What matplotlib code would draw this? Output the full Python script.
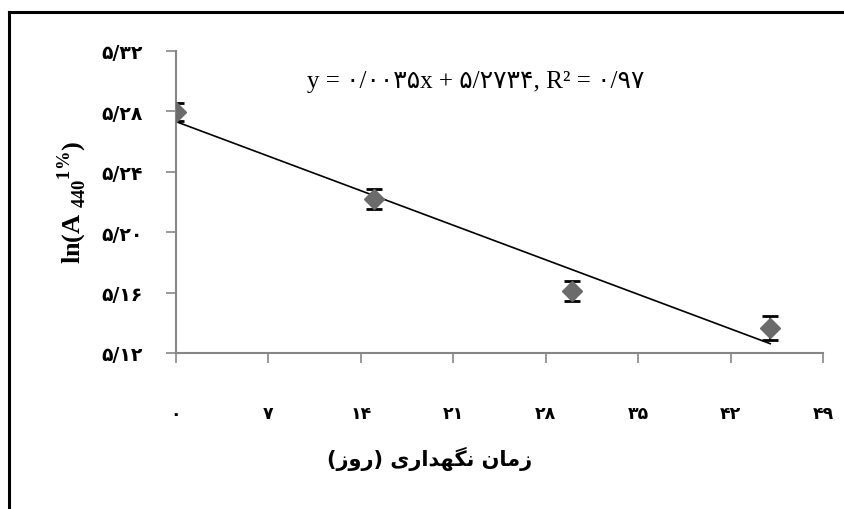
import numpy as np
import matplotlib
matplotlib.use('Agg')
import matplotlib.pyplot as plt
from matplotlib.lines import Line2D

# storage time (days) and ln(A440 1%) means with error
days = [0, 15, 30, 45]
ln_a = [5.2793, 5.2219, 5.1609, 5.1364]
err = [0.0060, 0.0064, 0.0068, 0.0078]

x_ticks = [0, 7, 14, 21, 28, 35, 42, 49]
y_ticks = [5.12, 5.16, 5.20, 5.24, 5.28, 5.32]

fa = str.maketrans('0123456789.', '۰۱۲۳۴۵۶۷۸۹/')
x_ticklabels = [str(v).translate(fa) for v in x_ticks]
y_ticklabels = ['%.2f' % v for v in y_ticks]
y_ticklabels = [s.translate(fa) for s in y_ticklabels]

eq_text = 'y = ۰/۰۰۳۵x + ۵/۲۷۳۴, R² = ۰/۹۷'
# "زمان نگهداری (روز)" pre-shaped, visual order
x_label = '(\uFEAF\uFEED\uFEAD) \uFBFC\uFEAD\uFE8D\uFEAA\uFEEC\uFB95\uFEE7 \uFEE5\uFE8E\uFEE3\uFEAF'

plt.rcParams['mathtext.fontset'] = 'custom'
plt.rcParams['mathtext.rm'] = 'Liberation Serif'
plt.rcParams['mathtext.bf'] = 'Liberation Serif:bold'

fig = plt.figure(figsize=(8.45, 5.10), dpi=100)
ax = fig.add_axes([176/845, 1-354/510, (823-176)/845, (354-51.7)/510])

gray = '#868686'

# trend line from a linear fit
k, b = np.polyfit(days, ln_a, 1)
xx = np.array([days[0], days[-1]])
ax.plot(xx, k*xx + b, color='black', lw=1.2, zorder=2)

ax.errorbar(days, ln_a, yerr=err, fmt='none', ecolor='black', elinewidth=1.2,
            capsize=6, capthick=2, zorder=3)
ax.plot(days, ln_a, 'D', ms=10, color='#6b6b6b', mec='#6b6b6b', zorder=4)

ax.set_xlim(0, 49)
ax.set_ylim(5.12, 5.32)
ax.set_xticks(x_ticks)
ax.set_xticklabels(x_ticklabels, fontweight='bold', fontsize=12.5, family=['DejaVu Sans'])
ax.set_yticks(y_ticks)
ax.set_yticklabels(y_ticklabels, fontweight='bold', fontsize=13.5, family=['DejaVu Sans'])

for s in ['top', 'right']:
    ax.spines[s].set_visible(False)
for s in ['left', 'bottom']:
    ax.spines[s].set_color(gray)
    ax.spines[s].set_linewidth(1.5)
ax.tick_params(axis='both', direction='out', length=7, width=1.2, color=gray)
ax.tick_params(axis='y', pad=17)
ax.tick_params(axis='x', pad=30)

fig.text(476/845, 1-82/510, eq_text, ha='center', va='center', fontsize=18,
         family=['Liberation Serif', 'DejaVu Sans'])

fig.text(430/845, 1-459/510, x_label, ha='center', va='center', fontsize=15,
         fontweight='bold', family=['DejaVu Sans'])

fig.text(72/845, 1-203/510, r'$\mathbf{ln(A}_{\ \mathbf{440}}{}^{\mathbf{1\%}}\mathbf{)}$',
         rotation=90, ha='center', va='center', fontsize=19)

# outer frame (left and top edges visible)
fig.add_artist(Line2D([9.3/845, 9.3/845], [0, 1-12.7/510], color='black', lw=2.2,
                      transform=fig.transFigure))
fig.add_artist(Line2D([9.3/845, 1], [1-12.7/510, 1-12.7/510], color='black', lw=2.2,
                      transform=fig.transFigure))

fig.savefig('out.png', dpi=100)
